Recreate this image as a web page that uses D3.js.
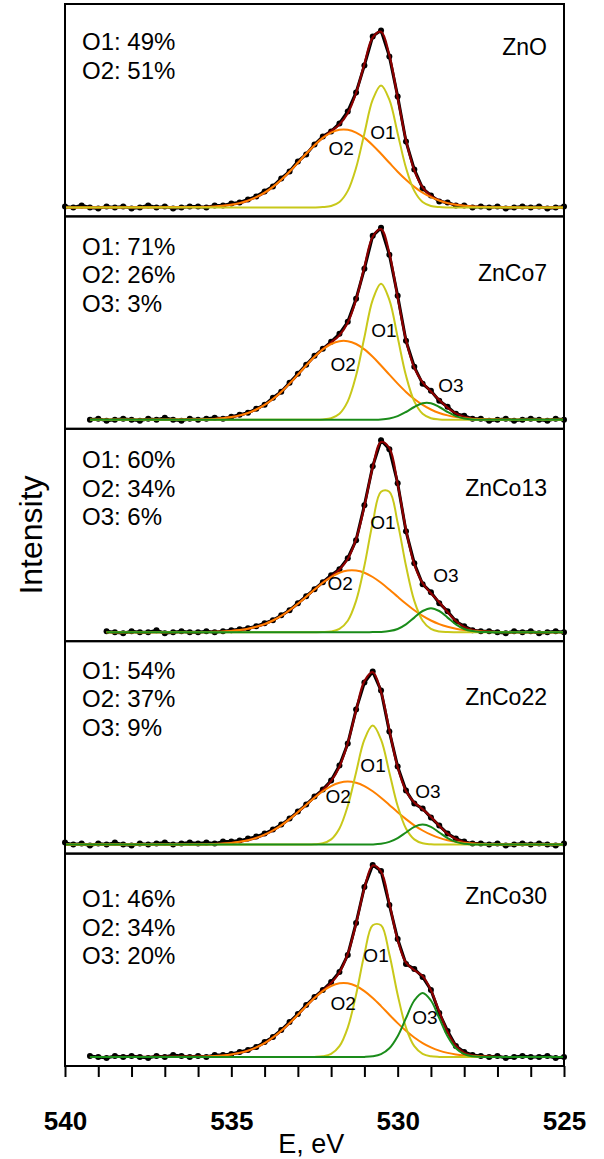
<!DOCTYPE html>
<meta charset="utf-8">
<style>
  body { margin: 0; background: #fff; }
  svg { display: block; }
</style>
<svg width="604" height="1159" font-family="'Liberation Sans', Arial, sans-serif"></svg>
<script src="https://cdn.jsdelivr.net/npm/d3@7/dist/d3.min.js"></script>
<script>

// sample names and fitted shares, top to bottom
var samples = ["ZnO", "ZnCo7", "ZnCo13", "ZnCo22", "ZnCo30"];
var shares = [
  ["O1: 49%", "O2: 51%"],
  ["O1: 71%", "O2: 26%", "O3: 3%"],
  ["O1: 60%", "O2: 34%", "O3: 6%"],
  ["O1: 54%", "O2: 37%", "O3: 9%"],
  ["O1: 46%", "O2: 34%", "O3: 20%"]
];

// first binding energy recorded in each scan (eV)
var scanStart = [540, 539.25, 538.75, 540, 539.25];

// measured counts, 540 -> 525 eV every 0.25 eV (null = not recorded)
var measured = [
  [1,0,2,0,-1,1,0,1,-1,0,2,0,1,-1,0,1,
   1,0,2,2,4,5,8,11,16,21,29,36,46,53,63,71,76,84,96,115,142,171,177,151,111,66,38,19,12,6,5,2,2,0,1,0,1,-1,0,1,0,
   1,-1,0,1],
  [null,null,null,0,1,-1,0,1,0,-1,1,0,2,0,-1,1,
   0,1,2,1,3,5,7,11,15,22,28,37,46,55,64,71,78,86,98,121,151,184,192,165,124,79,53,36,29,19,13,6,4,1,1,-1,0,1,-1,0,1,
   0,-1,1,0],
  [null,null,null,null,null,1,0,-1,1,0,0,2,-1,0,1,0,
   0,1,0,1,2,3,4,6,9,12,17,22,29,36,43,50,57,63,74,92,127,166,192,183,149,101,69,48,40,29,21,11,6,2,1,1,0,-1,1,0,1,
   -1,0,1,0],
  [2,0,1,-1,1,0,2,0,-1,1,0,1,2,0,1,2,
   1,2,1,3,3,4,6,8,11,15,20,26,33,40,48,55,64,79,101,135,162,173,154,113,78,54,41,36,27,19,11,6,3,1,1,0,1,-1,0,1,0,
   1,0,-1,1],
  [null,null,null,1,0,-1,1,0,1,0,-1,1,0,2,1,0,
   1,0,2,2,3,5,7,10,15,20,27,35,43,52,60,67,75,85,102,134,170,192,186,152,118,93,88,80,67,44,26,11,5,2,1,0,1,-1,0,1,0,
   0,1,-1,0]
];

// fitted components, 536 -> 526 eV every 0.25 eV
var fitO1 = [
  [0,0,0,0,0,0,0,0,0,0,0,0,0,0,0,.3,1.4,5.4,16.5,39.6,74.0,107.7,122,107.7,74.0,39.6,16.5,5.4,1.4,.3,0,0,0,0,0,0,0,0,0,0,0],
  [0,0,0,0,0,0,0,0,0,0,0,0,0,0,0,.3,1.5,6.0,18.4,44.2,82.5,120.0,136,120.0,82.5,44.2,18.4,6.0,1.5,.3,0,0,0,0,0,0,0,0,0,0,0],
  [0,0,0,0,0,0,0,0,0,0,0,0,0,0,0,.1,.7,3.3,11.5,31.3,66.4,109.5,140.5,140.5,109.5,66.4,31.3,11.5,3.3,.7,.1,0,0,0,0,0,0,0,0,0,0],
  [0,0,0,0,0,0,0,0,0,0,0,0,0,0,.3,1.3,5.2,16.1,38.6,72.2,105.0,119,105.0,72.2,38.6,16.1,5.2,1.3,.3,0,0,0,0,0,0,0,0,0,0,0,0],
  [0,0,0,0,0,0,0,0,0,0,0,0,0,0,.1,.7,3.1,10.8,29.4,62.3,102.7,131.8,131.8,102.7,62.3,29.4,10.8,3.1,.7,.1,0,0,0,0,0,0,0,0,0,0,0]
];
var fitO2 = [
  [.3,.5,.9,1.6,2.7,4.3,6.8,10.2,14.7,20.5,27.6,35.7,44.6,53.6,62.2,69.5,74.8,77.6,77.6,74.8,69.5,62.2,53.6,44.6,35.7,27.6,20.5,14.7,10.2,6.8,4.3,2.7,1.6,.9,.5,.3,.2,.1,.1,0,0],
  [.3,.5,.9,1.6,2.7,4.4,6.8,10.3,14.9,20.8,27.9,36.2,45.2,54.3,63.0,70.4,75.8,78.6,78.6,75.8,70.4,63.0,54.3,45.2,36.2,27.9,20.8,14.9,10.3,6.8,4.4,2.7,1.6,.9,.5,.3,.2,.1,0,0,0],
  [.1,.2,.4,.7,1.3,2.1,3.4,5.4,8.1,11.7,16.3,21.9,28.4,35.4,42.6,49.4,55.2,59.5,61.7,61.7,59.5,55.2,49.4,42.6,35.4,28.4,21.9,16.3,11.7,8.1,5.4,3.4,2.1,1.3,.7,.4,.2,.1,0,0,0],
  [.2,.3,.6,1.0,1.7,2.8,4.4,6.7,9.9,14.1,19.3,25.5,32.4,39.7,46.9,53.3,58.5,61.8,63,61.8,58.5,53.3,46.9,39.7,32.4,25.5,19.3,14.1,9.9,6.7,4.4,2.8,1.7,1.0,.6,.3,.2,.1,0,0,0],
  [.3,.5,.9,1.5,2.5,4.1,6.4,9.6,13.9,19.5,26.2,33.9,42.3,50.9,59.0,65.9,71.0,73.7,73.7,71.0,65.9,59.0,50.9,42.3,33.9,26.2,19.5,13.9,9.6,6.4,4.1,2.5,1.5,.9,.5,.3,.1,0,0,0,0]
];
var fitO3 = [
  null,
  [0,0,0,0,0,0,0,0,0,0,0,0,0,0,0,0,0,0,0,0,0,.1,.4,1.4,3.7,7.8,12.8,16.5,16.5,12.8,7.8,3.7,1.4,.4,.1,0,0,0,0,0,0],
  [0,0,0,0,0,0,0,0,0,0,0,0,0,0,0,0,0,0,0,0,0,.1,.3,1.1,3.2,7.8,14.6,21.2,24,21.2,14.6,7.8,3.2,1.1,.3,.1,0,0,0,0,0],
  [0,0,0,0,0,0,0,0,0,0,0,0,0,0,0,0,0,0,0,0,0,.2,.9,2.7,6.5,12.1,17.7,20,17.7,12.1,6.5,2.7,.9,.2,0,0,0,0,0,0,0],
  [0,0,0,0,0,0,0,0,0,0,0,0,0,0,0,0,0,0,0,0,.1,.7,2.8,8.7,20.8,38.8,56.5,64,56.5,38.8,20.8,8.7,2.8,.7,.1,0,0,0,0,0,0]
];

var tickValues = [540, 535, 530, 525];

// where the O1/O2/O3 tags sit, in (eV, counts)
var tagAt = [
  {O1: [530.44, 75], O2: [531.70, 59]},
  {O1: [530.41, 89], O2: [531.64, 55], O3: [528.40, 34]},
  {O1: [530.44, 110], O2: [531.73, 49], O3: [528.55, 57]},
  {O1: [530.74, 79], O2: [531.79, 48], O3: [529.09, 53]},
  {O1: [530.65, 102], O2: [531.64, 54], O3: [529.18, 40]}
];
var shareTop = [38, 30, 31, 29, 45],
    nameTop = [43, 57, 59, 56, 42];

var svg = d3.select("svg"),
    left = 65, right = 564, top0 = 4,
    panelH = 212.4;

var x = d3.scaleLinear().domain([540, 525]).range([left, right]);

var scanE = d3.range(540, 524.9, -0.25),
    fitE = d3.range(536, 525.9, -0.25);

var colors = {O1: "#c8c81a", O2: "#ff8000", O3: "#1a8c1a", env: "#8c0000"};

function fitSeries(vals, e0) {
  return [[e0, 0]].concat(fitE.map(function(e, i) { return [e, vals[i]]; })).concat([[525, 0]]);
}

samples.forEach(function(name, k) {
  var top = top0 + k * panelH;
  var y = d3.scaleLinear().domain([-9, panelH - 9]).range([top + panelH, top]);

  var line = d3.line()
      .x(function(d) { return x(d[0]); })
      .y(function(d) { return y(d[1]); })
      .curve(d3.curveCatmullRom.alpha(0.5));

  var g = svg.append("g");

  var pts = scanE.map(function(e, j) { return [e, measured[k][j]]; })
      .filter(function(d) { return d[1] !== null; });

  // measured points
  g.append("path")
      .datum(pts)
      .attr("fill", "none")
      .attr("stroke", "#000")
      .attr("stroke-width", 3)
      .attr("d", d3.line().x(function(d) { return x(d[0]); }).y(function(d) { return y(d[1]); }));

  g.append("g").selectAll("circle")
    .data(pts)
    .enter().append("circle")
      .attr("cx", function(d) { return x(d[0]); })
      .attr("cy", function(d) { return y(d[1]); })
      .attr("r", 3)
      .attr("fill", "#000");

  // envelope = sum of components
  var env = fitE.map(function(e, i) {
    return fitO1[k][i] + fitO2[k][i] + (fitO3[k] ? fitO3[k][i] : 0);
  });

  var e0 = scanStart[k];
  var curves = [["env", env], ["O2", fitO2[k]], ["O1", fitO1[k]]];
  if (fitO3[k]) curves.push(["O3", fitO3[k]]);

  curves.forEach(function(c) {
    g.append("path")
        .datum(fitSeries(c[1], e0))
        .attr("fill", "none")
        .attr("stroke", colors[c[0]])
        .attr("stroke-width", c[0] == "env" ? 2.2 : 2)
        .attr("d", line);
  });

  // component tags
  Object.keys(tagAt[k]).forEach(function(t) {
    g.append("text")
        .attr("x", x(tagAt[k][t][0]))
        .attr("y", y(tagAt[k][t][1]))
        .attr("dy", "0.35em")
        .attr("text-anchor", "middle")
        .attr("font-size", 19)
        .text(t);
  });

  // shares
  g.append("g").selectAll("text")
    .data(shares[k])
    .enter().append("text")
      .attr("x", 82)
      .attr("y", function(d, i) { return top + shareTop[k] + i * 28.5; })
      .attr("dy", "0.35em")
      .attr("font-size", 24)
      .text(function(d) { return d; });

  g.append("text")
      .attr("x", 547)
      .attr("y", top + nameTop[k])
      .attr("dy", "0.35em")
      .attr("text-anchor", "end")
      .attr("font-size", 23)
      .text(name);

  g.append("rect")
      .attr("x", left)
      .attr("y", top)
      .attr("width", right - left)
      .attr("height", panelH)
      .attr("fill", "none")
      .attr("stroke", "#000")
      .attr("stroke-width", 2);
});

var bottom = top0 + samples.length * panelH;

var axis = svg.append("g")
    .attr("transform", "translate(0," + bottom + ")")
    .call(d3.axisBottom(x).ticks(15).tickSize(11).tickFormat(function(d) {
      return tickValues.indexOf(d) >= 0 ? d : "";
    }));

axis.select(".domain").remove();
axis.selectAll(".tick line").attr("stroke", "#000").attr("stroke-width", 2);
axis.selectAll(".tick text")
    .attr("font-family", "'Liberation Sans', Arial, sans-serif")
    .attr("font-size", 26)
    .attr("font-weight", "bold")
    .attr("fill", "#000")
    .attr("y", 55)
    .attr("dy", "0.35em");

svg.append("text")
    .attr("x", x(532.6))
    .attr("y", 1144)
    .attr("dy", "0.35em")
    .attr("text-anchor", "middle")
    .attr("font-size", 27)
    .text("E, eV");

svg.append("text")
    .attr("transform", "translate(31," + 535 + ")rotate(-90)")
    .attr("dy", "0.35em")
    .attr("text-anchor", "middle")
    .attr("font-size", 32)
    .text("Intensity");

</script>
